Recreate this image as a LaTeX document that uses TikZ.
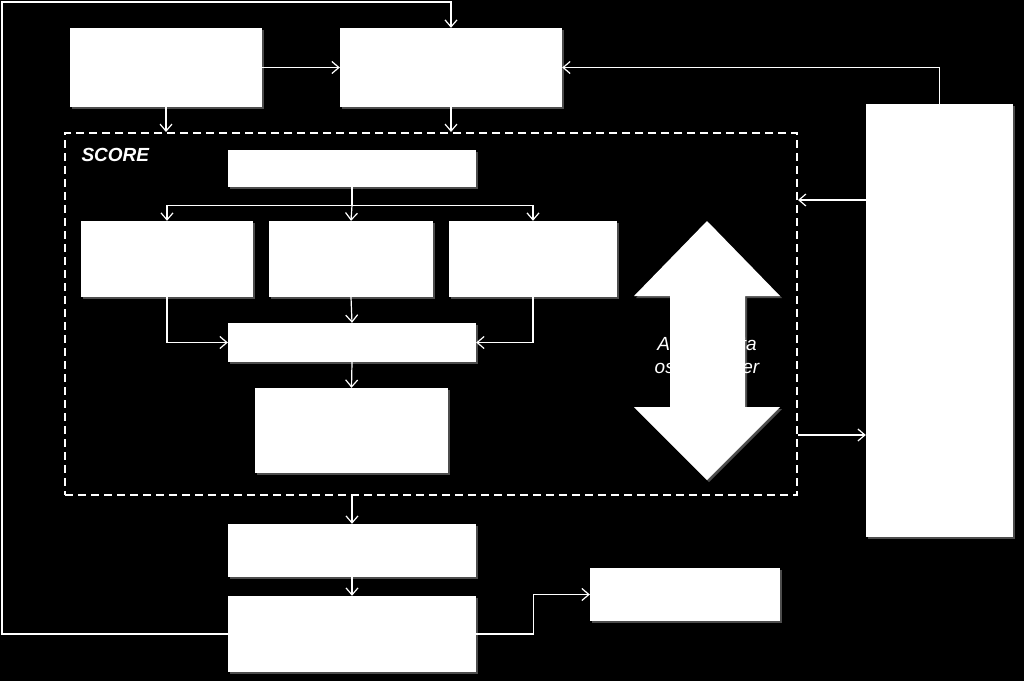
\documentclass[tikz,border=0pt]{standalone}
\usepackage{fontspec}
\usepackage{tikz}
\usetikzlibrary{arrows.meta, shadows}
\newfontfamily\arialfont{Liberation Sans}

\tikzset{
    blk/.style={rectangle, fill=white, draw=none, inner sep=0pt,
        drop shadow={fill=white, opacity=0.3, shadow xshift=2pt, shadow yshift=-2pt}},
    arr/.style={draw=white, line width=1.2pt, -{Straight Barb[length=7pt, width=12pt, line width=1.2pt]}},
    ln/.style={draw=white, line width=1.2pt},
}

\begin{document}
\begin{tikzpicture}[x=1pt, y=-1pt]
    \fill[black] (0,0) rectangle (1024,681);
    \useasboundingbox (0,0) rectangle (1024,681);
    % top row
    \node [blk, minimum width=192pt, minimum height=79pt] (src) at (166, 67.5) {};
    \node [blk, minimum width=222pt, minimum height=79pt] (prep) at (451, 67.5) {};
    \node [blk, minimum width=147pt, minimum height=433pt] (side) at (939.5, 320.5) {};
    % score region
    \node [draw=white, dash pattern=on 8pt off 5pt, line width=2pt, minimum width=732pt, minimum height=362pt, inner sep=0pt] (score) at (431, 314) {};
    \node [white, font=\arialfont\bfseries\itshape\fontsize{19}{22}\selectfont, anchor=west] (scorelbl) at (78, 155) {SCORE};
    \node [blk, minimum width=248pt, minimum height=37pt] (head) at (352, 168.5) {};
    \node [blk, minimum width=172pt, minimum height=76pt] (opt1) at (167, 259) {};
    \node [blk, minimum width=164pt, minimum height=76pt] (opt2) at (351, 259) {};
    \node [blk, minimum width=168pt, minimum height=76pt] (opt3) at (533, 259) {};
    \node [blk, minimum width=248pt, minimum height=39pt] (merge) at (352, 342.5) {};
    \node [blk, minimum width=193pt, minimum height=85pt] (eval) at (351.5, 430.5) {};
    % double arrow, text behind it
    \node [white, align=center, font=\arialfont\itshape\fontsize{19}{23}\selectfont] (dlbl) at (707, 357) {Analys data\\osäkra lager};
    \fill [white, drop shadow={fill=white, opacity=0.3, shadow xshift=2pt, shadow yshift=-2pt}]
        (707, 221) -- (780, 296) -- (745, 296) -- (745, 407) -- (780, 407) -- (707, 480)
        -- (634, 407) -- (670, 407) -- (670, 296) -- (634, 296) -- cycle;
    % bottom
    \node [blk, minimum width=248pt, minimum height=53pt] (post) at (352, 550.5) {};
    \node [blk, minimum width=248pt, minimum height=76pt] (outp) at (352, 634) {};
    \node [blk, minimum width=190pt, minimum height=53pt] (res) at (685, 594.5) {};

    % connectors
    \draw [arr] (src.east) -- (prep.west);
    \draw [arr] (side.north) |- (prep.east);
    \draw [arr] (src.south) -- (src.south |- score.north);
    \draw [arr] (prep.south) -- (prep.south |- score.north);
    \draw [arr] (outp.west) -| (2, 2) -| (prep.north);
    \draw [ln] (head.south) -- ++(0, 18) coordinate (split);
    \draw [arr] (split) -| (opt1.north);
    \draw [arr] (split) -- (opt2.north);
    \draw [arr] (split) -| (opt3.north);
    \draw [arr] (opt1.south) |- (merge.west);
    \draw [arr] (opt2.south) -- (merge.north);
    \draw [arr] (opt3.south) |- (merge.east);
    \draw [arr] (merge.south) -- (eval.north);
    \draw [arr] (side.west |- 0, 200) -- (score.east |- 0, 200);
    \draw [arr] (score.east |- 0, 435) -- (side.west |- 0, 435);
    \draw [arr] (score.south -| post.north) -- (post.north);
    \draw [arr] (post.south) -- (outp.north);
    \draw [arr] (outp.east) -- ++(57, 0) |- (res.west);
\end{tikzpicture}
\end{document}
